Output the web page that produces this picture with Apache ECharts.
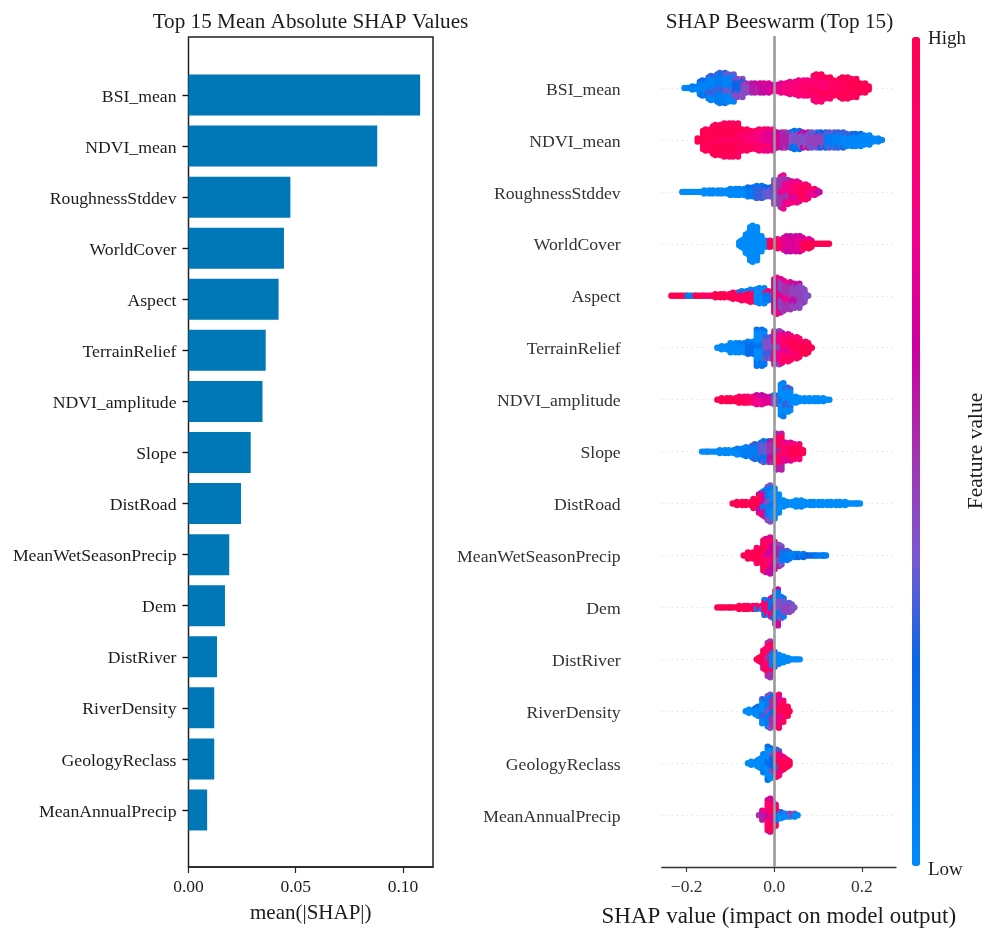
<!DOCTYPE html>
<html><head><meta charset="utf-8">
<style>html,body{margin:0;padding:0;background:#fff}#c{width:993px;height:936px}</style>
<script src="https://cdn.jsdelivr.net/npm/echarts@6/dist/echarts.min.js"></script>
</head><body><div id="c"></div>
<script>
const features = ['BSI_mean','NDVI_mean','RoughnessStddev','WorldCover','Aspect','TerrainRelief','NDVI_amplitude','Slope','DistRoad','MeanWetSeasonPrecip','Dem','DistRiver','RiverDensity','GeologyReclass','MeanAnnualPrecip'];
const meanAbsShap = [0.108,0.088,0.0475,0.0445,0.042,0.036,0.0345,0.029,0.0245,0.019,0.017,0.0133,0.012,0.012,0.0087];
const barTicks = [0,0.05,0.10];
const swarmTicks = [-0.2,0,0.2];
// Swarm bins: [SHAP value, samples stacked, feature value A, feature value B]
const BSI_mean = [[-.205,1,.02,.02],[-.18,3,.02,.1],[-.16,9,.05,.2],[-.14,13,.05,.3],[-.12,16,.1,.3],[-.10,14,.05,.35],[-.08,10,.25,.42],[-.06,6,.42,.5],[-.04,5,.55,.6],[-.02,5,.6,.7],[0,4,.72,.62],[.02,6,.78,.7],[.04,7,.82,.75],[.06,8,.85,.78],[.08,8,.9,.82],[.10,15,.85,.95],[.12,11,.85,1],[.14,9,.9,.98],[.16,11,.95,1],[.18,10,1,.95],[.20,6,1,1],[.22,2,1,1]];
const NDVI_mean = [[-.175,2,1,1],[-.15,11,1,.95],[-.13,16,1,.95],[-.11,18,1,.92],[-.09,18,1,.92],[-.07,11,.9,.97],[-.05,10,.85,.95],[-.03,12,.8,.9],[-.01,12,.7,.85],[.01,9,.68,.6],[.03,8,.55,.5],[.05,10,.4,.15],[.07,9,.4,.6],[.09,9,.45,.35],[.11,8,.45,.25],[.13,9,.1,.35],[.15,9,.05,.3],[.17,7,.02,.3],[.19,7,.02,.2],[.21,5,.02,.02],[.23,3,.02,.02],[.25,1,.05,.05]];
const RoughnessStddev = [[-.21,1,0,0],[-.19,1,0,0],[-.17,1,0,0],[-.15,2,0,0],[-.13,3,0,.02],[-.11,3,0,.02],[-.09,4,0,.05],[-.07,4,0,.05],[-.05,6,.1,.2],[-.03,7,.3,.15],[-.01,6,.35,.25],[.01,13,.45,.35],[.02,18,.5,.75],[.03,13,.75,.5],[.05,11,.85,.7],[.07,9,.95,.85],[.09,4,.75,.95],[.105,1,.6,.6]];
const WorldCover = [[-.08,2,0,0],[-.07,6,0,0],[-.06,12,0,0],[-.05,19,0,0],[-.04,17,0,0],[-.03,9,0,0],[-.02,4,0,0],[0,4,1,.9],[.015,6,.95,.85],[.03,8,.7,.6],[.045,9,.68,.6],[.06,8,.72,.65],[.075,5,1,.7],[.097,1,1,1],[.12,1,1,1],[.13,1,1,1]];
const Aspect = [[-.235,1,1,1],[-.205,1,1,1],[-.19,1,.1,.1],[-.17,1,1,1],[-.15,1,1,.9],[-.13,2,1,1],[-.11,3,1,1],[-.09,4,1,.95],[-.07,5,.95,.1],[-.05,7,.95,.05],[-.03,9,0,.05],[-.01,5,.1,.9],[.01,19,.6,.8],[.02,17,.45,.7],[.03,14,.5,.75],[.05,13,.45,.6],[.065,8,.45,.42],[.078,2,.4,.4]];
const TerrainRelief = [[-.13,1,0,0],[-.11,3,0,0],[-.09,6,0,0],[-.07,5,0,.1],[-.05,7,.2,.05],[-.03,19,0,.15],[-.01,11,.4,.3],[.01,18,.75,.45],[.03,15,.9,.7],[.05,11,1,.85],[.07,7,1,.9],[.09,3,1,1]];
const NDVI_amplitude = [[-.13,1,1,1],[-.11,2,1,1],[-.09,3,1,1],[-.07,4,1,.9],[-.05,4,.9,.85],[-.03,6,.75,.6],[-.01,4,.7,.6],[.01,6,.4,.2],[.02,18,0,.1],[.03,13,0,.3],[.045,4,0,0],[.07,3,0,0],[.09,3,0,0],[.11,2,0,0],[.13,1,0,0]];
const Slope = [[-.165,1,0,0],[-.14,1,0,0],[-.12,2,0,0],[-.10,3,0,0],[-.08,4,0,.1],[-.06,5,.1,.05],[-.04,8,.1,.3],[-.02,12,.35,.15],[0,11,.5,.6],[.01,19,.95,.55],[.03,10,.9,.7],[.05,8,1,.8],[.07,2,1,1]];
const DistRoad = [[-.095,1,1,1],[-.075,2,1,1],[-.055,3,1,1],[-.04,6,1,.95],[-.03,11,1,.6],[-.02,15,.7,.1],[-.01,19,.1,.4],[0,16,0,.1],[.01,10,0,0],[.02,4,0,0],[.04,3,0,0],[.06,4,0,0],[.08,3,0,0],[.10,3,0,0],[.12,3,0,0],[.14,2,0,0],[.16,2,0,0],[.18,1,0,0],[.20,1,0,0]];
const MeanWetSeasonPrecip = [[-.07,1,1,1],[-.05,4,1,.95],[-.03,9,1,.9],[-.02,17,1,.9],[-.01,19,.9,.6],[0,15,.65,.8],[.01,11,.55,.4],[.025,5,.1,.3],[.045,3,.1,.05],[.065,2,.25,.1],[.085,1,.25,.25],[.105,1,.15,.1],[.12,1,.1,.1]];
const Dem = [[-.13,1,1,1],[-.11,1,1,1],[-.09,1,1,1],[-.07,2,1,1],[-.05,2,1,.95],[-.03,3,.05,.9],[-.015,8,.9,.1],[0,12,.2,.8],[.005,19,.1,.6],[.015,12,.4,.1],[.03,6,.45,.35],[.05,2,.4,.4]];
const DistRiver = [[-.04,1,1,1],[-.03,4,1,.95],[-.02,11,1,.8],[-.01,19,.9,.5],[0,8,.05,.3],[.01,5,0,0],[.02,4,0,0],[.03,3,0,0],[.045,1,0,0],[.06,1,0,0]];
const RiverDensity = [[-.065,1,0,0],[-.05,2,0,0],[-.035,6,0,.2],[-.02,13,0,.3],[-.01,17,.1,.4],[0,16,.5,.2],[.01,18,.7,.9],[.02,11,1,.75],[.03,5,1,.95],[.04,3,1,1]];
const GeologyReclass = [[-.06,1,0,0],[-.045,2,0,0],[-.03,6,0,0],[-.02,10,0,.1],[-.01,18,0,.2],[0,9,.25,.4],[.01,14,.9,.3],[.02,8,1,.7],[.03,5,1,.85],[.04,2,1,1]];
const MeanAnnualPrecip = [[-.035,1,.5,.5],[-.02,6,.55,.75],[-.01,18,.9,.6],[-.005,18,.95,.7],[0,13,.95,.7],[.01,6,.1,.95],[.02,4,0,.3],[.03,3,0,0],[.04,2,0,.45],[.055,1,0,0]];
const swarmBins = [BSI_mean,NDVI_mean,RoughnessStddev,WorldCover,Aspect,TerrainRelief,NDVI_amplitude,Slope,DistRoad,MeanWetSeasonPrecip,Dem,DistRiver,RiverDensity,GeologyReclass,MeanAnnualPrecip];

// Stack each bin's samples around its feature row (hexagonal swarm layout, no randomness).
const rowPx = 51.94, gapPx = 3, colStep = 0.0058;
const swarmPoints = [];
swarmBins.forEach((bins, row) => {
  let colIndex = 0;
  bins.forEach((b, i) => {
    const prev = i ? bins[i-1][0] : b[0];
    const next = i < bins.length-1 ? bins[i+1][0] : b[0];
    const from = b[0] - Math.min((b[0]-prev)/2, 0.0125);
    const to = b[0] + Math.min((next-b[0])/2, 0.0125);
    const n = Math.round(2*(b[1]-1)/gapPx) + 1;
    const cols = [];
    for (let x = from; x <= to + 1e-6; x += colStep) cols.push(x);
    if (!cols.length) cols.push(b[0]);
    cols.forEach((x) => {
      const odd = colIndex % 2;
      colIndex++;
      const m = odd && n > 1 ? n-1 : n;
      for (let k = 0; k < m; k++) {
        const mix = (k*5 + colIndex*3 + (k>>1)) % 3 === 0;
        swarmPoints.push([x, row + (k-(m-1)/2)*gapPx/rowPx, mix ? b[3] : b[2]]);
      }
    });
  });
});

const font = 'Liberation Serif';
const ink = '#1c1c1c';
const chart = echarts.init(document.getElementById('c'), null, {renderer:'canvas'});
chart.setOption({
  backgroundColor:'#fff',
  animation:false,
  textStyle:{fontFamily:font},
  title:[
    {text:'Top 15 Mean Absolute SHAP Values',left:305.5,top:7,textAlign:'center',textStyle:{fontFamily:font,fontWeight:'normal',fontSize:21.2,color:ink}},
    {text:'SHAP Beeswarm (Top 15)',left:774.5,top:7,textAlign:'center',textStyle:{fontFamily:font,fontWeight:'normal',fontSize:21.2,color:ink}}
  ],
  grid:[
    {left:188.5,top:37,width:244.5,height:830,show:true,borderColor:'#222',borderWidth:1.5,backgroundColor:'transparent'},
    {left:188.5,top:69.5,width:244.5,height:766},
    {left:661.7,top:36.06,width:234.3,height:831.04}
  ],
  xAxis:[
    {gridIndex:0,type:'value',min:0,max:0.114,splitLine:{show:false},
     axisLine:{show:true,lineStyle:{color:'#222',width:1.5}},
     axisTick:{show:true,length:6,customValues:barTicks,lineStyle:{color:'#222',width:1.2}},
     axisLabel:{customValues:barTicks,margin:11,fontFamily:font,fontSize:17.5,color:ink,formatter:v=>v.toFixed(2)},
     name:'mean(|SHAP|)',nameLocation:'middle',nameGap:36,nameTextStyle:{fontFamily:font,fontSize:21,color:ink}},
    {gridIndex:1,type:'value',min:0,max:0.114,show:false},
    {gridIndex:2,type:'value',min:-0.257,max:0.278,splitLine:{show:false},
     axisLine:{show:true,onZero:false,lineStyle:{color:'#333',width:1.3}},
     axisTick:{show:true,length:5,customValues:swarmTicks,lineStyle:{color:'#333',width:1.1}},
     axisLabel:{customValues:swarmTicks,margin:11,fontFamily:font,fontSize:17.5,color:'#333',formatter:v=>v===0?'0.0':(v<0?'\u2212':'')+Math.abs(v).toFixed(1)},
     name:'SHAP value (impact on model output)',nameLocation:'middle',nameGap:38,nameTextStyle:{fontFamily:font,fontSize:23,color:ink}}
  ],
  yAxis:[
    {gridIndex:0,type:'value',min:0,max:1,show:false},
    {gridIndex:1,type:'category',inverse:true,data:features,
     axisLine:{show:false},
     axisTick:{show:true,length:6,alignWithLabel:true,lineStyle:{color:'#111',width:1.4}},
     axisLabel:{interval:0,margin:12,verticalAlign:'top',lineHeight:4,fontFamily:font,fontSize:17.7,color:ink}},
    {gridIndex:2,type:'value',inverse:true,min:-1,max:15,interval:1,
     axisLine:{show:false},axisTick:{show:false},
     splitLine:{show:true,showMinLine:false,showMaxLine:false,lineStyle:{color:'#d8d8d8',type:[1,4],width:1}},
     axisLabel:{margin:41,verticalAlign:'top',lineHeight:4,fontFamily:font,fontSize:17.7,color:'#333',formatter:v=>features[v]||''}}
  ],
  visualMap:{type:'continuous',seriesIndex:1,dimension:2,min:0,max:1,calculable:false,
    left:912,top:37,padding:0,itemWidth:8,itemHeight:829,text:null,
    showLabel:false,hoverLink:false,borderRadius:0,itemStyle:{borderRadius:0},
    inRange:{color:['#008bfb','#0078f2','#0a66e6','#7a58d0','#a332ae','#cc00a0','#f0008e','#ff006c','#ff0052']}},
  series:[
    {type:'bar',xAxisIndex:1,yAxisIndex:1,data:meanAbsShap,barWidth:41,itemStyle:{color:'#0077b6'}},
    {type:'scatter',xAxisIndex:2,yAxisIndex:2,data:swarmPoints,symbolSize:6.4,large:false,z:3,
     itemStyle:{opacity:1},emphasis:{disabled:true},silent:true},
    {type:'scatter',xAxisIndex:2,yAxisIndex:2,data:[],z:1,silent:true,
     markLine:{silent:true,symbol:'none',label:{show:false},animation:false,z:1,
       lineStyle:{color:'#9a9a9a',width:2.6,type:'solid'},data:[{xAxis:0}]}}
  ],
  graphic:[
    {type:'text',left:928,top:30,style:{text:'High',fontFamily:font,fontSize:19,fill:ink}},
    {type:'text',left:928,top:861,style:{text:'Low',fontFamily:font,fontSize:19,fill:ink}},
    {type:'text',x:976,y:451,rotation:Math.PI/2,style:{text:'Feature value',fontFamily:font,fontSize:21.5,fill:ink,align:'center',verticalAlign:'middle'}}
  ]
});
</script></body></html>
